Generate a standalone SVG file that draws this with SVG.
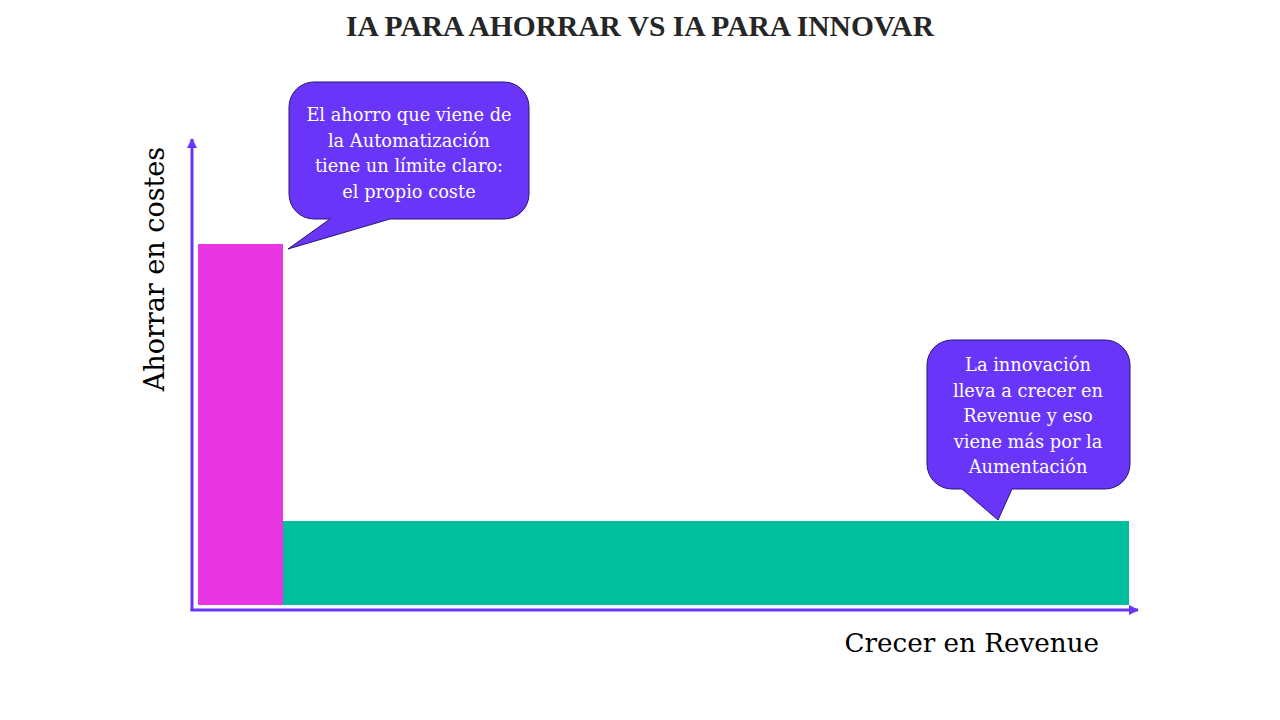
<svg xmlns="http://www.w3.org/2000/svg" width="1280" height="720" viewBox="0 0 1280 720">
<style>
.title{font-family:"Liberation Serif","DejaVu Serif",serif;font-weight:bold;font-size:29.5px;fill:#262626}
.axl{font-family:"DejaVu Serif","Liberation Serif",serif;font-size:27px;fill:#000}
.ct{font-family:"DejaVu Serif","Liberation Serif",serif;font-size:17.8px;fill:#fff}
.bubble{fill:#6935F9;stroke:#2A1770;stroke-width:1}
.axis{stroke:#6935F9;stroke-width:3;fill:none}
</style>
<defs>
<marker id="arr" viewBox="0 0 10 10" refX="9" refY="5" markerWidth="3.5" markerHeight="3.5" orient="auto" markerUnits="strokeWidth">
<path d="M0,0 L10,5 L0,10 z" fill="#6935F9"/>
</marker>
</defs>
<rect width="1280" height="720" fill="#fff"/>
<text class="title" x="640" y="36" text-anchor="middle">IA PARA AHORRAR VS IA PARA INNOVAR</text>
<g id="bar-ahorro"><rect x="198" y="244" width="85" height="361" fill="#E936E2"/></g>
<g id="bar-innovar"><rect x="283" y="521" width="846" height="84" fill="#00BF9F"/></g>
<g id="connectors">
<line class="axis" x1="192" y1="611" x2="192" y2="139" marker-end="url(#arr)"/>
<line class="axis" x1="190.5" y1="610" x2="1138" y2="610" marker-end="url(#arr)"/>
</g>
<g id="callout-ahorro">
<path class="bubble" d="M314,82 H504 A25,25 0 0 1 529,107 V194 A25,25 0 0 1 504,219 H390 L288,249 L330,219 H314 A25,25 0 0 1 289,194 V107 A25,25 0 0 1 314,82 Z"/>
<text class="ct" text-anchor="middle" x="409" y="121">El ahorro que viene de</text>
<text class="ct" text-anchor="middle" x="409" y="146.5">la Automatización</text>
<text class="ct" text-anchor="middle" x="409" y="172">tiene un límite claro:</text>
<text class="ct" text-anchor="middle" x="409" y="197.5">el propio coste</text>
</g>
<g id="callout-innovar">
<path class="bubble" d="M952,340 H1105 A25,25 0 0 1 1130,365 V464 A25,25 0 0 1 1105,489 H1012 L998,520 L962,489 H952 A25,25 0 0 1 927,464 V365 A25,25 0 0 1 952,340 Z"/>
<text class="ct" text-anchor="middle" x="1028" y="371">La innovación</text>
<text class="ct" text-anchor="middle" x="1028" y="396.5">lleva a crecer en</text>
<text class="ct" text-anchor="middle" x="1028" y="422">Revenue y eso</text>
<text class="ct" text-anchor="middle" x="1028" y="447.5">viene más por la</text>
<text class="ct" text-anchor="middle" x="1028" y="473">Aumentación</text>
</g>
<text class="axl" x="1099" y="652" text-anchor="end" style="font-size:26.2px">Crecer en Revenue</text>
<text class="axl" transform="translate(164,269) rotate(-90)" text-anchor="middle">Ahorrar en costes</text>
</svg>
